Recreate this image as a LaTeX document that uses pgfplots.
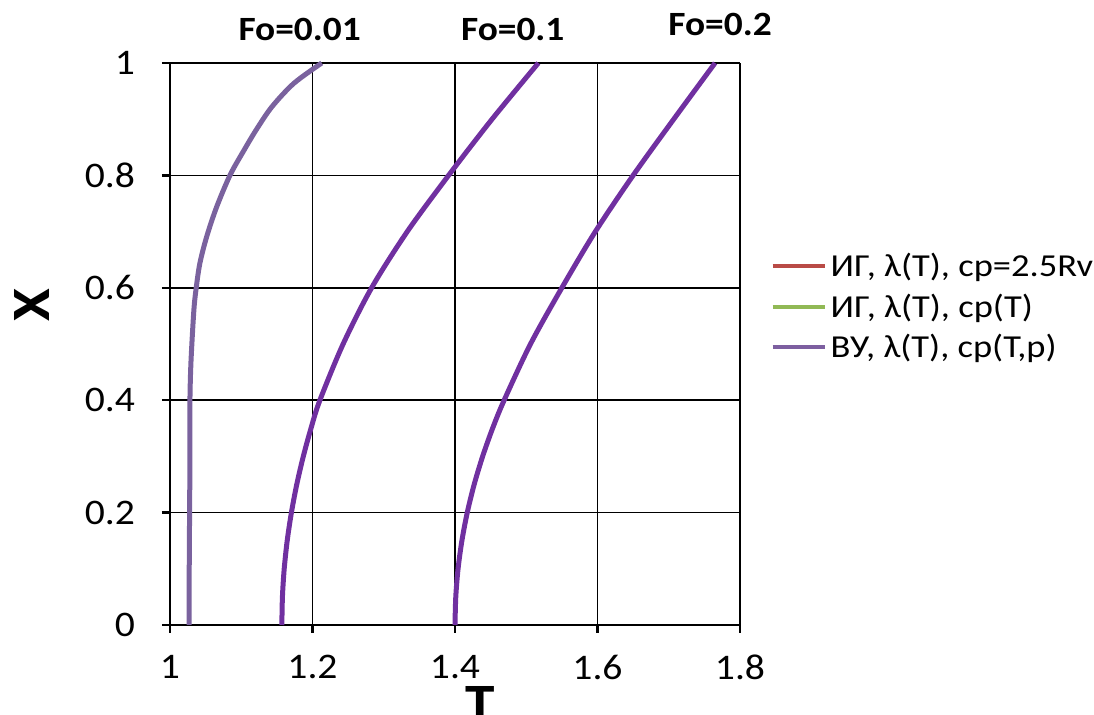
\documentclass[border=0pt]{standalone}
\usepackage{fontspec}
\setmainfont{Carlito}[FakeStretch=1.1]
\newfontfamily\legfont{Carlito}[FakeStretch=1.14]
\usepackage{pgfplots}
\pgfplotsset{compat=1.18}
\definecolor{cred}{RGB}{185,75,70}
\definecolor{cgreen}{RGB}{145,185,85}
\definecolor{cpurp}{RGB}{125,95,160}
\definecolor{cpurpA}{RGB}{122,98,158}
\definecolor{cpurpB}{RGB}{112,48,160}
\begin{document}
\begin{tikzpicture}
\path[use as bounding box] (0,0) rectangle (547pt,357.5pt);
\begin{axis}[
  at={(85pt,45pt)}, anchor=south west,
  scale only axis, width=285pt, height=281pt,
  xmin=1, xmax=1.8, ymin=0, ymax=1,
  xtick={1,1.2,...,1.8}, ytick={0,0.2,...,1},
  xticklabels={1,1.2,1.4,1.6,1.8},
  yticklabels={0,0.2,0.4,0.6,0.8,1},
  grid=major, grid style={black, line width=0.75pt},
  axis lines*=left, axis line style={black, line width=1.4pt, -},
  tick align=outside, major tick length=4pt,
  tick style={black, line width=1.2pt},
  /pgf/number format/assume math mode=true,
  ticklabel style={font=\fontsize{18}{21}\selectfont},
  xticklabel style={yshift=-7.5pt},
  yticklabel style={xshift=-10pt},
  clip=false,
  legend style={draw=none, fill=none, at={(axis description cs:1.053,0.566)}, anchor=west,
    font=\legfont\fontsize{16}{18}\selectfont, row sep=3pt, inner sep=0pt},
  legend cell align=left,
  legend image code/.code={\draw[#1, line width=2pt] (0pt,0pt) -- (26pt,0pt);},
]
\addlegendimage{cred}
\addlegendentry{ИГ, λ(T), cp=2.5Rv}
\addlegendimage{cgreen}
\addlegendentry{ИГ, λ(T), cp(T)}
\addlegendimage{cpurp}
\addlegendentry{ВУ, λ(T), cp(T,p)}
% Fo = 0.01
\addplot[forget plot, smooth, cpurpA, line width=2.5pt] coordinates {
(1.027,0) (1.027,0.1) (1.0275,0.2) (1.028,0.3) (1.028,0.4) (1.0295,0.47) (1.0335,0.56)
(1.0368,0.6) (1.042,0.644) (1.0515,0.691) (1.0655,0.744) (1.0845,0.801) (1.104,0.845)
(1.121,0.881) (1.143,0.922) (1.174,0.964) (1.213,1.0)};
% Fo = 0.1
\addplot[forget plot, smooth, cpurpB, line width=2.5pt] coordinates {
(1.157,0) (1.1578,0.05) (1.1603,0.1) (1.1645,0.15) (1.1704,0.2) (1.1779,0.25) (1.1871,0.3)
(1.1979,0.35) (1.2104,0.4) (1.243,0.5) (1.283,0.6) (1.333,0.7) (1.391,0.8)
(1.452,0.9) (1.517,1.0)};
% Fo = 0.2
\addplot[forget plot, smooth, cpurpB, line width=2.5pt] coordinates {
(1.400,0) (1.4011,0.05) (1.4043,0.1) (1.4097,0.15) (1.4172,0.2) (1.4269,0.25) (1.4388,0.3)
(1.4528,0.35) (1.469,0.4) (1.506,0.5) (1.550,0.6) (1.597,0.7) (1.650,0.8)
(1.707,0.9) (1.765,1.0)};
\node[font=\bfseries\fontsize{17}{20}\selectfont] at (axis cs:1.182,1.059) {Fo=0.01};
\node[font=\bfseries\fontsize{17}{20}\selectfont] at (axis cs:1.481,1.059) {Fo=0.1};
\node[font=\bfseries\fontsize{17}{20}\selectfont] at (axis cs:1.772,1.068) {Fo=0.2};
\node[font=\bfseries\fontsize{27}{30}\selectfont, rotate=90] at (axis cs:0.806,0.569) {X};
\node[font=\bfseries\fontsize{27}{30}\selectfont, anchor=north, inner sep=0pt] at (axis cs:1.435,-0.109) {T};
\end{axis}
\end{tikzpicture}
\end{document}
